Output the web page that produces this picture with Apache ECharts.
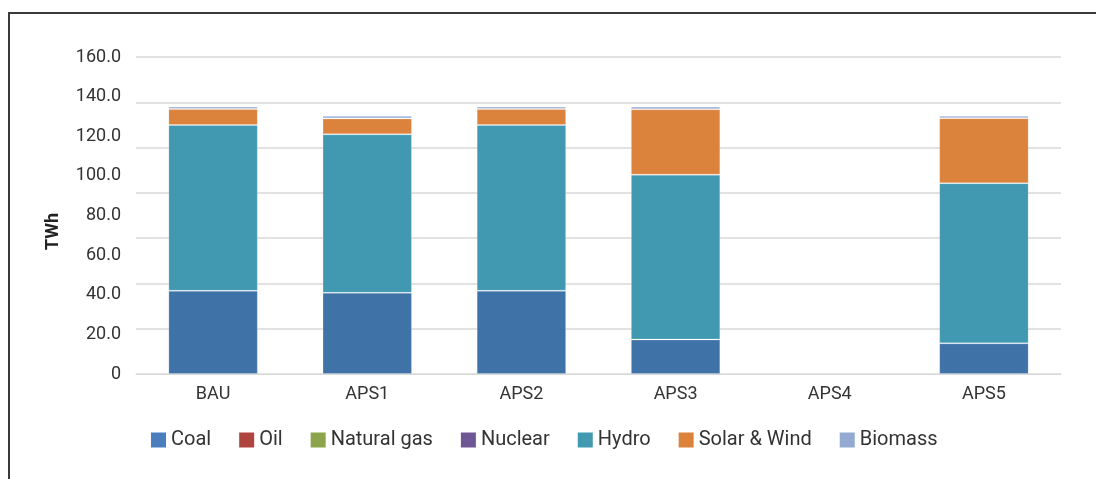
<!DOCTYPE html>
<html>
<head>
<meta charset="utf-8">
<script src="https://cdn.jsdelivr.net/npm/echarts@6/dist/echarts.min.js"></script>
<style>
  html, body { margin: 0; padding: 0; background: #fff; }
  #chart { width: 1096px; height: 479px; }
</style>
</head>
<body>
<div id="chart"></div>
<script>
const categories = ['BAU', 'APS1', 'APS2', 'APS3', 'APS4', 'APS5'];
const coal = [42.0, 41.0, 42.0, 17.4, null, 15.5];
const oil = [0, 0, 0, 0, null, 0];
const naturalGas = [0, 0, 0, 0, null, 0];
const nuclear = [0, 0, 0, 0, null, 0];
const hydro = [83.7, 80.0, 83.7, 83.2, null, 80.8];
const solarWind = [8.0, 8.0, 8.0, 33.0, null, 32.8];
const biomass = [1.3, 1.3, 1.3, 1.4, null, 1.3];

const seriesNames = ['Coal', 'Oil', 'Natural gas', 'Nuclear', 'Hydro', 'Solar & Wind', 'Biomass'];
const seriesData = [coal, oil, naturalGas, nuclear, hydro, solarWind, biomass];
const barColors = ['#3f72a7', '#b0443f', '#8ba54c', '#6d5795', '#4199b1', '#db823d', '#a0b1d8'];
const legendColors = ['#4a7ebf', '#b0443f', '#8ba54c', '#6d5795', '#419ab1', '#dd823b', '#93a9d1'];

const font = 'Roboto';
const chart = echarts.init(document.getElementById('chart'));

const series = seriesNames.map(function (name, i) {
  const visible = seriesData[i].some(function (v) { return v; });
  return {
    name: name,
    type: 'bar',
    stack: 'total',
    barCategoryGap: '42%',
    itemStyle: {
      color: barColors[i],
      borderColor: visible ? 'rgba(255,255,255,0.18)' : 'transparent',
      borderWidth: visible ? 1 : 0
    },
    data: seriesData[i]
  };
});

const option = {
  animation: false,
  grid: { left: 136, right: 35, top: 57, bottom: 105 },
  graphic: [
    {
      type: 'rect',
      shape: { x: 9, y: 13, width: 1200, height: 600 },
      style: { fill: 'none', stroke: '#3a3a3a', lineWidth: 2 }
    },
    {
      type: 'text',
      x: 44,
      y: 250,
      rotation: Math.PI / 2,
      style: { text: 'TWh', font: 'bold 18px ' + font, fill: '#222' }
    }
  ],
  legend: {
    left: 151,
    top: 430,
    padding: 0,
    itemWidth: 15,
    itemHeight: 15,
    itemGap: 28,
    icon: 'rect',
    textStyle: { fontFamily: font, fontSize: 20, color: '#333' },
    data: seriesNames.map(function (n, i) {
      return { name: n, itemStyle: { color: legendColors[i], borderWidth: 0 } };
    })
  },
  xAxis: {
    type: 'category',
    data: categories,
    axisLine: { lineStyle: { color: '#d9d9d9', width: 1 } },
    axisTick: { show: false },
    axisLabel: { fontFamily: font, fontSize: 18, color: '#333', margin: 11 }
  },
  yAxis: [
    {
      type: 'value',
      min: 0,
      max: 160,
      interval: 20,
      axisLine: { show: false },
      axisTick: { show: false },
      splitLine: { show: false },
      axisLabel: {
        fontFamily: font,
        fontSize: 18,
        color: '#333',
        margin: 15,
        formatter: function (v) { return v === 0 ? '0' : v.toFixed(1); }
      }
    },
    {
      type: 'value',
      min: 0,
      max: 7,
      interval: 1,
      position: 'left',
      axisLine: { show: false },
      axisTick: { show: false },
      axisLabel: { show: false },
      splitLine: { lineStyle: { color: '#d9d9d9', width: 1.5 } }
    }
  ],
  series: series
};

chart.setOption(option);
</script>
</body>
</html>
